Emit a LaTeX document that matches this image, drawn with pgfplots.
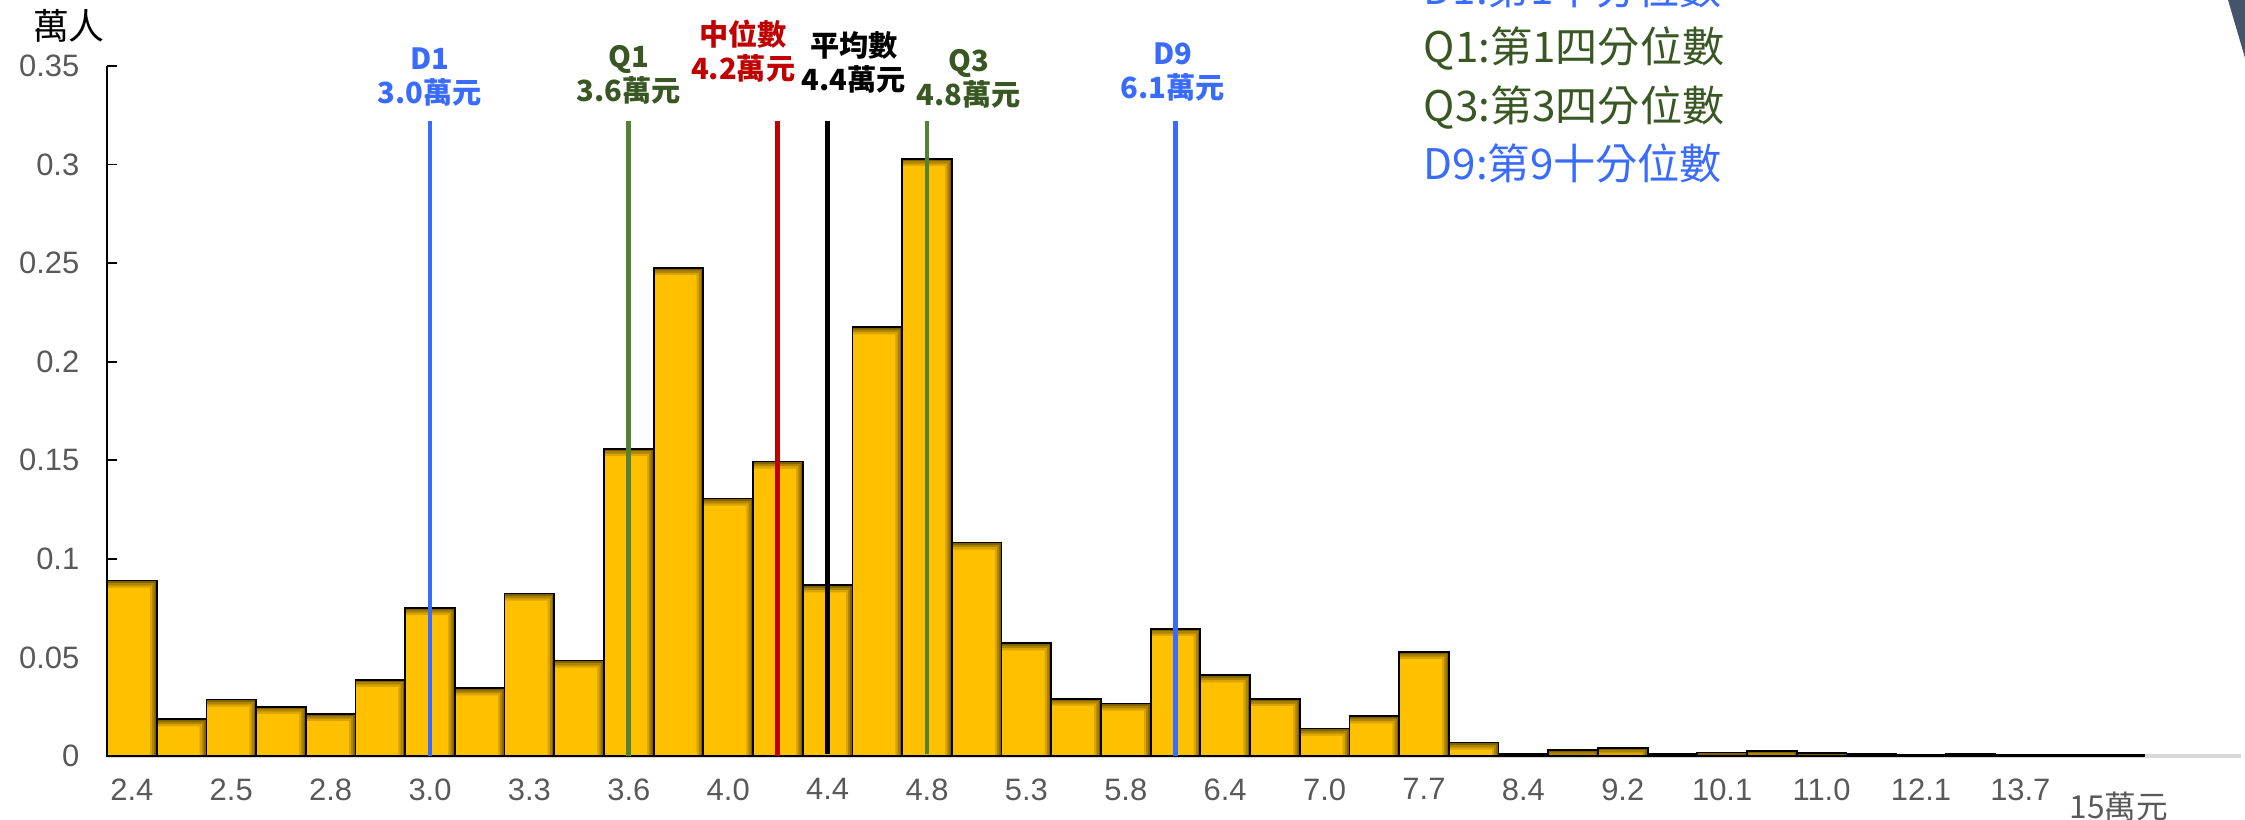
\documentclass[border=0pt]{standalone}
\usepackage{fontspec}
\setmainfont{Liberation Sans}
\newfontfamily\cjk{Noto Sans CJK TC}
\usepackage{pgfplots}
\usepackage{pgfplotstable}
\pgfplotsset{compat=1.18}
\definecolor{gold}{HTML}{FFC000}
\definecolor{gold1}{HTML}{D9A300}
\definecolor{gold2}{HTML}{AD8300}
\definecolor{gold3}{HTML}{7F6000}
\definecolor{dblue}{HTML}{3A6BFF}
\definecolor{qgreen}{HTML}{548235}
\definecolor{qtext}{HTML}{385723}
\definecolor{medred}{HTML}{C00000}
\definecolor{ticktext}{HTML}{595959}
\definecolor{baseg}{HTML}{D9D9D9}
\definecolor{corner}{HTML}{44546A}
\pgfplotstableread{
x y
0 0.0890
1 0.0186
2 0.0286
3 0.0250
4 0.0213
5 0.0387
6 0.0751
7 0.0343
8 0.0824
9 0.0484
10 0.1558
11 0.2475
12 0.1306
13 0.1494
14 0.0866
15 0.2175
16 0.3029
17 0.1083
18 0.0572
19 0.0291
20 0.0266
21 0.0645
22 0.0410
23 0.0289
24 0.0139
25 0.0201
26 0.0528
27 0.0068
28 0.0012
29 0.0030
30 0.0042
31 0.0012
32 0.0018
33 0.0027
34 0.0015
35 0.0010
36 0.0005
37 0.0012
38 0.0006
39 0.0004
40 0.0006
}\bars
\begin{document}
\begin{tikzpicture}
\begin{axis}[
  at={(0,0)}, anchor=south west,
  scale only axis, width=213.4mm, height=69mm,
  xmin=-0.5, xmax=42.44, ymin=0, ymax=0.35,
  axis x line*=bottom, axis y line*=left,
  axis line style={-},
  x axis line style={draw=baseg, line width=1pt},
  y axis line style={draw=black, line width=0.45pt},
  ytick={0,0.05,0.1,0.15,0.2,0.25,0.3,0.35},
  yticklabels={0,0.05,0.1,0.15,0.2,0.25,0.3,0.35},
  ytick style={draw=black, line width=0.45pt},
  major tick length=1mm, tick align=inside,
  xtick={0,2,...,38},
  xticklabels={2.4,2.5,2.8,3.0,3.3,3.6,4.0,4.4,4.8,5.3,5.8,6.4,7.0,7.7,8.4,9.2,10.1,11.0,12.1,13.7},
  xtick style={draw=none},
  tick label style={font=\fontsize{8.8}{10}\selectfont, text=ticktext},
  xticklabel style={inner sep=0pt, anchor=north, yshift=-2.2mm},
  yticklabel style={inner sep=0pt, anchor=east, xshift=-2.7mm},
  /pgf/number format/assume math mode=true,
  clip=false,
]
% bar body with darker top and right edge (inner shadow look)
\addplot[ybar, bar width=1, bar shift=0pt, draw=none, fill=gold3] table[x=x,y=y] {\bars};
\addplot[ybar, bar width=0.955, bar shift=-0.0225, draw=none, fill=gold2] table[x=x,y expr={max(\thisrow{y}-0.0012,0)}] {\bars};
\addplot[ybar, bar width=0.91, bar shift=-0.045, draw=none, fill=gold1] table[x=x,y expr={max(\thisrow{y}-0.0024,0)}] {\bars};
\addplot[ybar, bar width=0.865, bar shift=-0.0675, draw=none, fill=gold] table[x=x,y expr={max(\thisrow{y}-0.0036,0)}] {\bars};
\addplot[ybar, bar width=1, bar shift=0pt, draw=black, line width=0.5pt, fill=none] table[x=x,y=y] {\bars};
\addplot[dblue, line width=1.4pt] coordinates {(6,0) (6,0.322)};
\addplot[qgreen, line width=1.4pt] coordinates {(10,0) (10,0.322)};
\addplot[medred, line width=1.4pt] coordinates {(13,0) (13,0.322)};
\addplot[black, line width=1.4pt] coordinates {(14,0.001) (14,0.322)};
\addplot[qgreen, line width=1.4pt] coordinates {(16,0.001) (16,0.322)};
\addplot[dblue, line width=1.4pt] coordinates {(21,0) (21,0.322)};
\begin{scope}[every node/.style={anchor=south, align=center, inner sep=0pt, font=\cjk\bfseries\fontsize{8.3}{9.7}\selectfont}]
\node[text=dblue] at (axis cs:6,0.3291) {D1\\3.0萬元};
\node[text=qtext] at (axis cs:10,0.3301) {Q1\\3.6萬元};
\node[text=medred] at (axis cs:12.3,0.3413) {中位數\\4.2萬元};
\node[text=black] at (axis cs:14.53,0.3357) {平均數\\4.4萬元};
\node[text=qtext] at (axis cs:16.84,0.3281) {Q3\\4.8萬元};
\node[text=dblue] at (axis cs:20.95,0.3316) {D9\\6.1萬元};
\end{scope}
\end{axis}
\node[anchor=center, inner sep=0pt, font=\cjk\fontsize{10.2}{11}\selectfont] at (-3.8mm,73.0mm) {萬人};
\node[anchor=center, inner sep=0pt, text=ticktext, font=\cjk\fontsize{9}{10}\selectfont] at (201.2mm,-5.0mm) {15萬元};
\begin{scope}[every node/.style={anchor=base west, inner sep=0pt, font=\cjk\fontsize{12}{14}\selectfont}]
\node[text=dblue] at (131.6mm,75.15mm) {D1:第1十分位數};
\node[text=qtext] at (131.6mm,69.3mm) {Q1:第1四分位數};
\node[text=qtext] at (131.6mm,63.4mm) {Q3:第3四分位數};
\node[text=dblue] at (131.6mm,57.6mm) {D9:第9十分位數};
\end{scope}
\fill[corner] (212.1mm,75.6mm) -- (213.8mm,75.6mm) -- (213.8mm,69.8mm) -- cycle;
\pgfresetboundingbox
\useasboundingbox (-10.7mm,-6.4mm) rectangle (213.8mm,75.6mm);
\end{tikzpicture}
\end{document}
